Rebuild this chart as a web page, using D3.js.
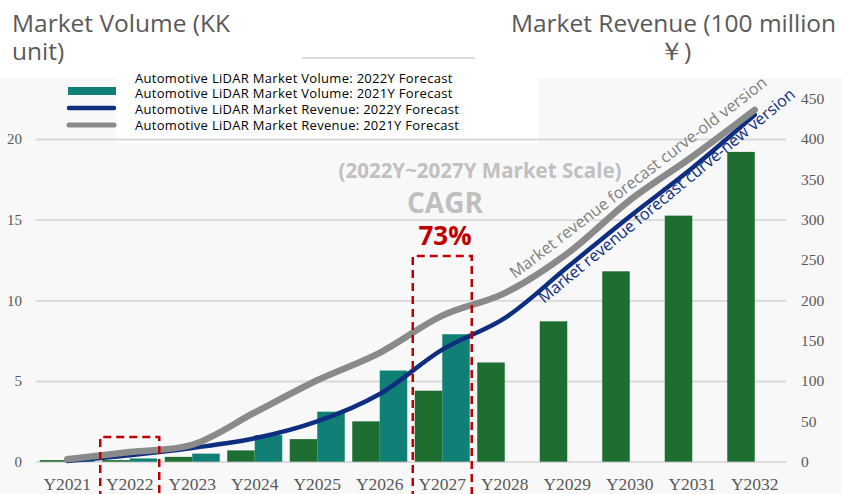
<!DOCTYPE html>
<html>
<head>
<meta charset="utf-8">
<script src="https://cdn.jsdelivr.net/npm/d3@7"></script>
<style>
  body { margin: 0; background: #fff; }
  svg { display: block; font-family: "Open Sans", "Noto Sans", sans-serif; }
  .axis text { font-family: "Liberation Serif", "DejaVu Serif", serif; fill: #595959; }
</style>
</head>
<body>
<div id="chart"></div>
<script>
// Data
const years = ["Y2021", "Y2022", "Y2023", "Y2024", "Y2025", "Y2026",
  "Y2027", "Y2028", "Y2029", "Y2030", "Y2031", "Y2032"];
// Market volume (KK unit), 2021Y forecast (green) and 2022Y forecast (teal)
const volume2021 = [0.1, 0.1, 0.3, 0.7, 1.4, 2.5, 4.4, 6.15, 8.7, 11.8, 15.25, 19.2];
const volume2022 = [0.05, 0.2, 0.5, 1.65, 3.1, 5.65, 7.9, null, null, null, null, null];
// Market revenue (100 million yuan)
const revenue2021 = [3, 12, 21, 61, 101, 135, 181, 209, 258, 324, 378, 436];
const revenue2022 = [1, 8, 17, 29, 50, 84, 139, 178, 241, 304, 364, 430];
const leftTicks = [0, 5, 10, 15, 20];
const rightTicks = [0, 50, 100, 150, 200, 250, 300, 350, 400, 450];
const legendLabels = [
  "Automotive LiDAR Market Volume: 2022Y Forecast",
  "Automotive LiDAR Market Volume: 2021Y Forecast",
  "Automotive LiDAR Market Revenue: 2022Y Forecast",
  "Automotive LiDAR Market Revenue: 2021Y Forecast",
];

// Set up dimensions
let width = 842;
let height = 494;
let plot = { left: 36, right: 786, zero: 461.7, top: 139 };

// Set up colors
let green = "#1f6e31";
let teal = "#108076";
let blue = "#0e2f7f";
let grey = "#8a8a8a";
let red = "#c00000";
let labelColor = "#595959";

// Set up scales
let xScale = d3
  .scaleBand()
  .domain(years)
  .range([plot.left, plot.right])
  .paddingInner(0.12)
  .paddingOuter(0.06);

let subScale = d3
  .scaleBand()
  .domain(["v2021", "v2022"])
  .range([0, xScale.bandwidth()]);

let yLeft = d3.scaleLinear().domain([0, 20]).range([plot.zero, plot.top]);
let yRight = d3.scaleLinear().domain([0, 400]).range([plot.zero, plot.top]);

let cx = (i) => xScale(years[i]) + xScale.bandwidth() / 2;

const svg = d3
  .select("#chart")
  .append("svg")
  .attr("width", width)
  .attr("height", height);

// Backgrounds
svg.append("rect").attr("x", 0).attr("y", 78).attr("width", width)
  .attr("height", height - 78).attr("fill", "#f8f8f8");
svg.append("rect").attr("x", 116).attr("y", 0).attr("width", 422)
  .attr("height", 143).attr("fill", "#fff");
svg.append("line").attr("x1", 302).attr("x2", 475).attr("y1", 58).attr("y2", 58)
  .attr("stroke", "#dcdcdc").attr("stroke-width", 2);

// Titles
let titles = [
  { text: "Market Volume (KK", x: 12, y: 32, anchor: "start" },
  { text: "unit)", x: 12, y: 60, anchor: "start" },
  { text: "Market Revenue (100 million", x: 673.5, y: 32, anchor: "middle" },
  { text: "￥)", x: 675, y: 60, anchor: "middle" },
];
svg.append("g").selectAll("text").data(titles).join("text")
  .attr("x", (d) => d.x).attr("y", (d) => d.y)
  .attr("text-anchor", (d) => d.anchor)
  .attr("fill", labelColor).attr("font-size", 24.5)
  .text((d) => d.text);

// Left axis with gridlines
const yLeftG = svg.append("g").attr("class", "axis")
  .attr("transform", `translate(${plot.left},0)`)
  .call(d3.axisLeft(yLeft).tickValues(leftTicks)
    .tickSize(-(plot.right - plot.left)).tickPadding(14));
yLeftG.select(".domain").remove();
yLeftG.selectAll("line").attr("stroke", "#d9d9d9").attr("stroke-width", 1.8);
yLeftG.selectAll("text").attr("font-size", 15);

// Right axis
const yRightG = svg.append("g").attr("class", "axis")
  .attr("transform", `translate(${plot.right},0)`)
  .call(d3.axisRight(yRight).tickValues(rightTicks).tickSize(0).tickPadding(15));
yRightG.select(".domain").remove();
yRightG.selectAll("text").attr("font-size", 15.5);

// Bottom axis
const xAxisG = svg.append("g").attr("class", "axis")
  .attr("transform", `translate(0,${plot.zero})`)
  .call(d3.axisBottom(xScale).tickSize(0));
xAxisG.select(".domain").remove();
xAxisG.selectAll("text").attr("font-size", 17.5).attr("dy", null).attr("y", 28);

// Bars
let barData = [];
years.forEach((y, i) => {
  barData.push({ year: y, key: "v2021", value: volume2021[i], color: green });
  if (volume2022[i] != null)
    barData.push({ year: y, key: "v2022", value: volume2022[i], color: teal });
});
svg.append("g").selectAll("rect").data(barData).join("rect")
  .attr("x", (d) => xScale(d.year) + subScale(d.key))
  .attr("width", subScale.bandwidth())
  .attr("y", (d) => yLeft(d.value))
  .attr("height", (d) => plot.zero - yLeft(d.value))
  .attr("fill", (d) => d.color);

// Revenue lines
let line = d3.line()
  .x((d, i) => cx(i))
  .y((d) => yRight(d))
  .curve(d3.curveCatmullRom.alpha(0.5));

svg.append("path").datum(revenue2022)
  .attr("fill", "none").attr("stroke", blue).attr("stroke-width", 4.5)
  .attr("stroke-linecap", "round").attr("d", line);
svg.append("path").datum(revenue2021)
  .attr("fill", "none").attr("stroke", grey).attr("stroke-width", 6.5)
  .attr("stroke-linecap", "round").attr("d", line);

// Curve labels
svg.append("text")
  .attr("transform", "translate(515,279) rotate(-37.5)")
  .attr("fill", "#808080").attr("font-size", 16.2)
  .text("Market revenue forecast curve-old version");
svg.append("text")
  .attr("transform", "translate(544,304) rotate(-39.5)")
  .attr("fill", blue).attr("font-size", 16.2)
  .text("Market revenue forecast curve-new version");

// Legend
let legend = svg.append("g");
legend.append("rect").attr("x", 68).attr("y", 87).attr("width", 48).attr("height", 8)
  .attr("fill", teal);
legend.append("line").attr("x1", 69).attr("x2", 114).attr("y1", 108).attr("y2", 108)
  .attr("stroke", blue).attr("stroke-width", 4.5).attr("stroke-linecap", "round");
legend.append("line").attr("x1", 69).attr("x2", 114).attr("y1", 125).attr("y2", 125)
  .attr("stroke", grey).attr("stroke-width", 5).attr("stroke-linecap", "round");
legend.selectAll("text").data(legendLabels).join("text")
  .attr("x", 135)
  .attr("y", (d, i) => 78 + i * 15.7)
  .attr("dy", "0.35em")
  .attr("font-size", 13)
  .attr("letter-spacing", 0.3)
  .attr("fill", "#000")
  .text((d) => d);

// CAGR annotation
svg.append("text").attr("x", 480).attr("y", 178).attr("text-anchor", "middle")
  .attr("font-weight", "bold").attr("font-size", 20.5).attr("fill", "#c0c0c0")
  .text("(2022Y~2027Y Market Scale)");
svg.append("text").attr("x", 445).attr("y", 213).attr("text-anchor", "middle")
  .attr("font-weight", "bold").attr("font-size", 28).attr("fill", "#bfbfbf")
  .text("CAGR");
svg.append("text").attr("x", 445).attr("y", 245).attr("text-anchor", "middle")
  .attr("font-weight", "bold").attr("font-size", 26).attr("fill", red)
  .text("73%");

// Red dashed boxes around Y2022 and Y2027
let boxes = [
  { year: "Y2022", top: 437 },
  { year: "Y2027", top: 256 },
];
svg.append("g").selectAll("path").data(boxes).join("path")
  .attr("d", (d) => {
    let x0 = xScale(d.year) - 2;
    let x1 = xScale(d.year) + xScale.bandwidth() + 2;
    return `M${x0},${height + 5}V${d.top}H${x1}V${height + 5}`;
  })
  .attr("fill", "none").attr("stroke", red).attr("stroke-width", 2.5)
  .attr("stroke-dasharray", "8,5");
</script>
</body>
</html>
